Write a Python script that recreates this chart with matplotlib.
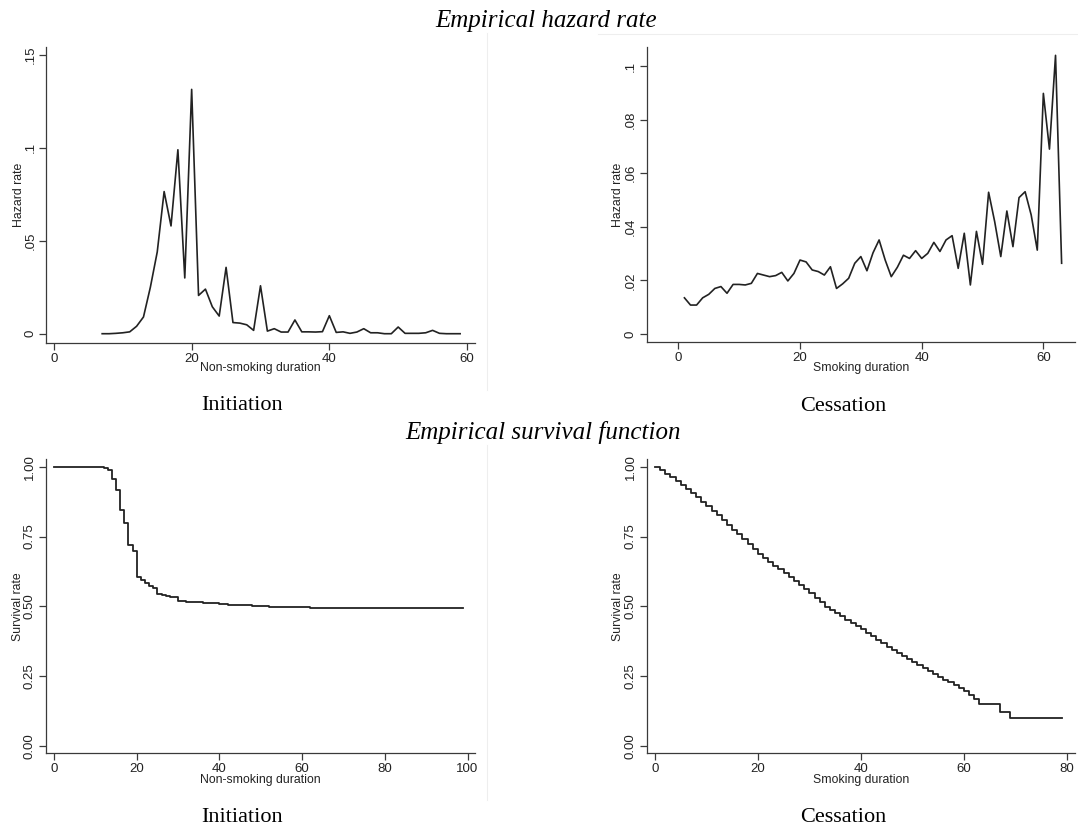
import matplotlib
matplotlib.use("Agg")
import matplotlib.pyplot as plt
from matplotlib.lines import Line2D

# ---------------------------------------------------------------------------
# Data
# ---------------------------------------------------------------------------

# hazard of smoking initiation by years of non-smoking
init_hz_t = list(range(7, 60))
init_hz = [0.0, 0.0, 0.0002, 0.0005, 0.001, 0.004, 0.009, 0.025, 0.044, 0.0765,
           0.058, 0.099, 0.030, 0.1315, 0.0206, 0.024, 0.0145, 0.0095, 0.0357, 0.006,
           0.0057, 0.0048, 0.0018, 0.0258, 0.0014, 0.0027, 0.0009, 0.0009, 0.0074, 0.001,
           0.001, 0.0009, 0.0011, 0.0097, 0.0007, 0.001, 0.0002, 0.0009, 0.0027, 0.0005,
           0.0005, 0.0, 0.0, 0.0036, 0.0002, 0.0002, 0.0002, 0.0005, 0.0018, 0.0002,
           0.0, 0.0, 0.0]

# hazard of cessation by years of smoking
cess_hz_t = list(range(1, 64))
cess_hz = [0.0135, 0.0108, 0.0108, 0.0135, 0.0148, 0.017, 0.0177, 0.0152, 0.0185, 0.0185,
           0.0183, 0.0189, 0.0226, 0.022, 0.0214, 0.0218, 0.023, 0.0198, 0.0226, 0.0276,
           0.0269, 0.0239, 0.0233, 0.022, 0.0251, 0.017, 0.0187, 0.0208, 0.0264, 0.0289,
           0.0236, 0.0303, 0.0351, 0.0276, 0.0214, 0.0249, 0.0294, 0.0282, 0.0311, 0.0282,
           0.0301, 0.0342, 0.0308, 0.0351, 0.0367, 0.0245, 0.0376, 0.0183, 0.0383, 0.026,
           0.0529, 0.0419, 0.0289, 0.0459, 0.0326, 0.0509, 0.0531, 0.0444, 0.0313, 0.0898,
           0.069, 0.104, 0.0264]

# Kaplan-Meier survival, initiation
init_km_t = [0, 10, 11, 12, 13, 14, 15, 16, 17, 18, 19, 20, 21, 22, 23, 24, 25, 26, 27,
             28, 29, 30, 32, 34, 36, 38, 40, 42, 45, 48, 52, 56, 62, 99]
init_km = [1.0, 0.999, 0.998, 0.995, 0.99, 0.957, 0.918, 0.847, 0.798, 0.719, 0.698,
           0.605, 0.594, 0.582, 0.573, 0.566, 0.544, 0.540, 0.537, 0.535, 0.532, 0.519,
           0.517, 0.515, 0.513, 0.511, 0.507, 0.505, 0.503, 0.501, 0.499, 0.497, 0.495,
           0.495]

# Kaplan-Meier survival, cessation
cess_km_t = list(range(0, 64)) + [67, 69, 79]
cess_km = [1.000, 0.988, 0.976, 0.963, 0.950, 0.936, 0.921, 0.906, 0.891, 0.875,
           0.859, 0.843, 0.826, 0.809, 0.792, 0.775, 0.758, 0.741, 0.724, 0.707,
           0.689, 0.674, 0.660, 0.646, 0.632, 0.618, 0.604, 0.590, 0.576, 0.561,
           0.546, 0.530, 0.514, 0.498, 0.487, 0.476, 0.464, 0.452, 0.441, 0.430,
           0.418, 0.405, 0.393, 0.380, 0.368, 0.355, 0.344, 0.333, 0.322, 0.312,
           0.301, 0.290, 0.279, 0.268, 0.258, 0.247, 0.237, 0.227, 0.217, 0.208,
           0.198, 0.182, 0.166, 0.150, 0.122, 0.100, 0.100]

hz_init_yticks = [0, 0.05, 0.1, 0.15]
hz_init_ylabels = ["0", ".05", ".1", ".15"]
hz_cess_yticks = [0, 0.02, 0.04, 0.06, 0.08, 0.1]
hz_cess_ylabels = ["0", ".02", ".04", ".06", ".08", ".1"]
km_yticks = [0, 0.25, 0.5, 0.75, 1.0]
km_ylabels = ["0.00", "0.25", "0.50", "0.75", "1.00"]

# ---------------------------------------------------------------------------
# Figure
# ---------------------------------------------------------------------------
W, H = 1078, 833
fig = plt.figure(figsize=(W / 100, H / 100), dpi=100)
fig.patch.set_facecolor("white")

INK = "#222222"
AXC = "#3a3a3a"
SANS = "Liberation Sans"
SERIF = "Liberation Serif"

# faint edges of the four pasted graph panels
for xs, ys in [((487, 487), (33, 390)), ((487, 487), (445, 800)),
               ((598, 1078), (34, 34))]:
    fig.add_artist(Line2D([x / W for x in xs], [1 - y / H for y in ys],
                          color="#eeeeee", lw=0.8))


def make_axes(left, right, top, bottom):
    return fig.add_axes([left / W, 1 - bottom / H, (right - left) / W, (bottom - top) / H])


def style(ax, xlim, ylim, xticks, yticks, ylabels, xlabel, ylabel, xl_y, yl_x):
    ax.set_xlim(*xlim)
    ax.set_ylim(*ylim)
    for s in ("top", "right"):
        ax.spines[s].set_visible(False)
    for s in ("left", "bottom"):
        ax.spines[s].set_color(AXC)
        ax.spines[s].set_linewidth(0.9)
    ax.set_xticks(xticks)
    ax.set_xticklabels([str(t) for t in xticks])
    ax.set_yticks(yticks)
    ax.set_yticklabels(ylabels)
    ax.tick_params(direction="out", length=5, width=0.9, color=AXC,
                   labelsize=9.5, labelcolor=INK, pad=2)
    for lab in ax.get_xticklabels() + ax.get_yticklabels():
        lab.set_family(SANS)
    for lab in ax.get_yticklabels():
        lab.set_rotation(90)
        lab.set_va("center")
    ax.set_xlabel(xlabel, fontsize=8.8, family=SANS, color=INK)
    ax.set_ylabel(ylabel, fontsize=8.8, family=SANS, color=INK)
    ax.xaxis.label.set_va("center")
    ax.yaxis.label.set_va("center")
    ax.xaxis.set_label_coords(0.5, xl_y)
    ax.yaxis.set_label_coords(yl_x, 0.5)
    ax.set_facecolor("none")


# hazard, initiation
ax1 = make_axes(46, 475, 47, 343)
ax1.plot(init_hz_t, init_hz, color=INK, lw=1.2)
style(ax1, (-1.16, 61.16), (-0.005, 0.1543), [0, 20, 40, 60],
      hz_init_yticks, hz_init_ylabels, "Non-smoking duration", "Hazard rate",
      -0.085, -0.063)

# hazard, cessation
ax2 = make_axes(646.7, 1075, 47.3, 342.3)
ax2.plot(cess_hz_t, cess_hz, color=INK, lw=1.2)
style(ax2, (-5.2, 65.2), (-0.0031, 0.107), [0, 20, 40, 60],
      hz_cess_yticks, hz_cess_ylabels, "Smoking duration", "Hazard rate",
      -0.087, -0.067)

# survival, initiation
ax3 = make_axes(45.7, 475, 459.3, 753.3)
ax3.step(init_km_t, init_km, where="post", color=INK, lw=1.3)
style(ax3, (-2.0, 101.8), (-0.027, 1.027), [0, 20, 40, 60, 80, 100],
      km_yticks, km_ylabels, "Non-smoking duration", "Survival rate",
      -0.091, -0.0645)

# survival, cessation
ax4 = make_axes(646.7, 1075, 459.3, 753.3)
ax4.step(cess_km_t, cess_km, where="post", color=INK, lw=1.3)
style(ax4, (-1.6, 81.6), (-0.027, 1.027), [0, 20, 40, 60, 80],
      km_yticks, km_ylabels, "Smoking duration", "Survival rate",
      -0.091, -0.066)

# section titles and panel captions
fig.text(546 / W, 1 - 21 / H, "Empirical hazard rate", family=SERIF, style="italic",
         fontsize=18, ha="center", va="center", color="black")
fig.text(543 / W, 1 - 432 / H, "Empirical survival function", family=SERIF,
         style="italic", fontsize=18, ha="center", va="center", color="black")
for x, y, txt in [(242.5, 405, "Initiation"), (843, 406, "Cessation"),
                  (242.5, 817, "Initiation"), (843, 817, "Cessation")]:
    fig.text(x / W, 1 - y / H, txt, family=SERIF, fontsize=16,
             ha="center", va="center", color="black")

fig.savefig("out.png", dpi=100, facecolor="white")
